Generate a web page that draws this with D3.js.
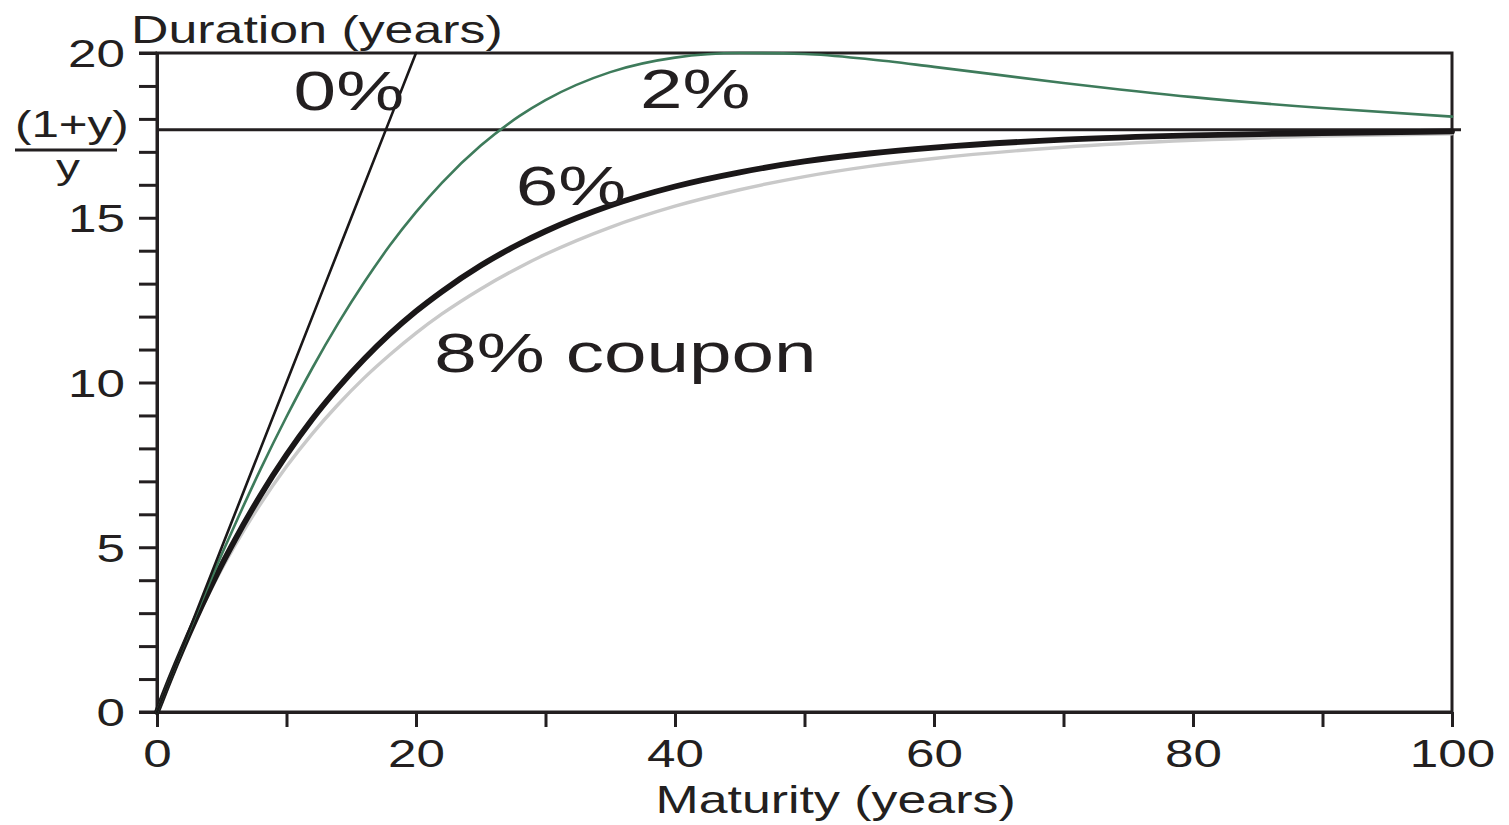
<!DOCTYPE html>
<html>
<head>
<meta charset="utf-8">
<script src="https://cdn.jsdelivr.net/npm/d3@7/dist/d3.min.js"></script>
<style>
  html, body { margin: 0; padding: 0; background: #fff; }
  svg { display: block; font-family: "Liberation Sans", Arial, sans-serif; }
</style>
</head>
<body>
<svg id="chart" width="1509" height="825"></svg>
<script>
// ---------- data ----------
const maturities = [0,1,2,3,4,5,6,8,10,12,14,16,18,20,22,25,28,30,35,40,45,50,55,60,70,80,90,100];
const coupon2 = [0,1.00,1.98,2.94,3.87,4.79,5.67,7.37,8.96,10.44,11.80,13.04,14.17,15.17,16.06,17.19,18.09,18.57,19.42,19.86,20.00,19.97,19.81,19.58,19.09,18.66,18.33,18.07];
const coupon6 = [0,1.00,1.94,2.83,3.67,4.47,5.21,6.58,7.80,8.89,9.85,10.71,11.48,12.16,12.76,13.55,14.21,14.59,15.37,15.95,16.38,16.71,16.95,17.13,17.37,17.50,17.57,17.62];
const coupon8 = [0,1.00,1.93,2.79,3.59,4.34,5.04,6.32,7.45,8.45,9.34,10.14,10.85,11.50,12.08,12.84,13.50,13.89,14.71,15.35,15.85,16.25,16.56,16.80,17.14,17.35,17.48,17.55];
const zeroMaturities = [0,5,10,15,20];
const coupon0 = [0,5,10,15,20];
const limitValue = 17.667;           // (1+y)/y at y = 6%
const xTicks = [0,10,20,30,40,50,60,70,80,90,100];
const xTickLabels = [0,20,40,60,80,100];
const yTicks = [0,1,2,3,4,5,6,7,8,9,10,11,12,13,14,15,16,17,18,19,20];
const yTickLabels = [0,5,10,15,20];
const annotations = [
  {text: "0%", m: 10.55, d: 18.27},
  {text: "2%", m: 37.3, d: 18.33},
  {text: "6%", m: 27.7, d: 15.39},
  {text: "8% coupon", m: 21.4, d: 10.32}
];

// ---------- layout ----------
const svg = d3.select("#chart");
const ink = "#231f20";
const sx = 1.33;   // horizontal stretch of the reference typography
const x = d3.scaleLinear().domain([0,100]).range([157,1452]);
const y = d3.scaleLinear().domain([0,20]).range([712,53]);

// frame
svg.append("rect")
  .attr("x", x(0)).attr("y", y(20))
  .attr("width", x(100)-x(0)).attr("height", y(0)-y(20))
  .attr("fill", "none").attr("stroke", ink).attr("stroke-width", 3);

// y axis
const yAxis = svg.append("g")
  .attr("transform", `translate(${x(0)},0)`)
  .call(d3.axisLeft(y).tickValues(yTicks).tickSize(18).tickSizeOuter(0)
        .tickFormat(d => yTickLabels.includes(d) ? d : ""));
yAxis.select(".domain").attr("stroke", ink).attr("stroke-width", 3);
yAxis.selectAll(".tick line").attr("stroke", ink).attr("stroke-width", 3);
yAxis.selectAll(".tick text")
  .attr("x", null).attr("dy", "0.36em")
  .attr("transform", `translate(-32,0) scale(${sx},1)`)
  .attr("text-anchor", "end")
  .attr("font-size", 38.5).attr("fill", ink)
  .attr("font-family", "Liberation Sans, Arial, sans-serif");

// x axis
const xAxis = svg.append("g")
  .attr("transform", `translate(0,${y(0)})`)
  .call(d3.axisBottom(x).tickValues(xTicks).tickSize(15).tickSizeOuter(0)
        .tickFormat(d => xTickLabels.includes(d) ? d : ""));
xAxis.select(".domain").attr("stroke", ink).attr("stroke-width", 3);
xAxis.selectAll(".tick line").attr("stroke", ink).attr("stroke-width", 3);
xAxis.selectAll(".tick text")
  .attr("y", null).attr("dy", null)
  .attr("transform", `translate(0,55) scale(${sx},1)`)
  .attr("text-anchor", "middle")
  .attr("font-size", 38.5).attr("fill", ink)
  .attr("font-family", "Liberation Sans, Arial, sans-serif");

// extend bottom axis line and top frame to the left (as in reference)
[0, 20].forEach(v => {
  svg.append("line")
    .attr("x1", x(0)-18).attr("x2", x(0))
    .attr("y1", y(v)).attr("y2", y(v))
    .attr("stroke", ink).attr("stroke-width", 3);
});

// limit line (1+y)/y
svg.append("line")
  .attr("x1", x(0)).attr("x2", x(100)+9)
  .attr("y1", y(limitValue)).attr("y2", y(limitValue))
  .attr("stroke", ink).attr("stroke-width", 3);

// curves
const line = d3.line()
  .x(d => x(d[0])).y(d => y(d[1]))
  .curve(d3.curveMonotoneX);

const series = [
  {m: maturities, v: coupon8, color: "#c9c9c9", w: 3.4},
  {m: maturities, v: coupon6, color: "#1a1718", w: 5.8},
  {m: maturities, v: coupon2, color: "#3e7b5b", w: 2.6},
  {m: zeroMaturities, v: coupon0, color: "#1a1718", w: 2.6}
];
series.forEach(s => {
  svg.append("path")
    .datum(s.m.map((m,i) => [m, s.v[i]]))
    .attr("d", line)
    .attr("fill", "none")
    .attr("stroke", s.color)
    .attr("stroke-width", s.w)
    .attr("stroke-linejoin", "round")
    .attr("stroke-linecap", "round");
});

// annotations
annotations.forEach(a => {
  svg.append("text")
    .attr("transform", `translate(${x(a.m)},${y(a.d)}) scale(1.39,1)`)
    .attr("font-size", 55).attr("fill", ink)
    .text(a.text);
});

// axis titles
svg.append("text")
  .attr("transform", `translate(131,43) scale(${sx},1)`)
  .attr("font-size", 39).attr("fill", ink)
  .text("Duration (years)");
svg.append("text")
  .attr("transform", `translate(${x(52.4)},813) scale(${sx},1)`)
  .attr("text-anchor", "middle")
  .attr("font-size", 39).attr("fill", ink)
  .text("Maturity (years)");

// fraction label (1+y)/y
svg.append("text")
  .attr("transform", `translate(15,137) scale(1.37,1)`)
  .attr("font-size", 36).attr("fill", ink)
  .text("(1+y)");
svg.append("text")
  .attr("transform", `translate(68,179) scale(${sx},1)`)
  .attr("text-anchor", "middle")
  .attr("font-size", 36).attr("fill", ink)
  .text("y");
svg.append("line")
  .attr("x1", 15).attr("x2", 117).attr("y1", 150).attr("y2", 150)
  .attr("stroke", ink).attr("stroke-width", 3);
</script>
</body>
</html>
